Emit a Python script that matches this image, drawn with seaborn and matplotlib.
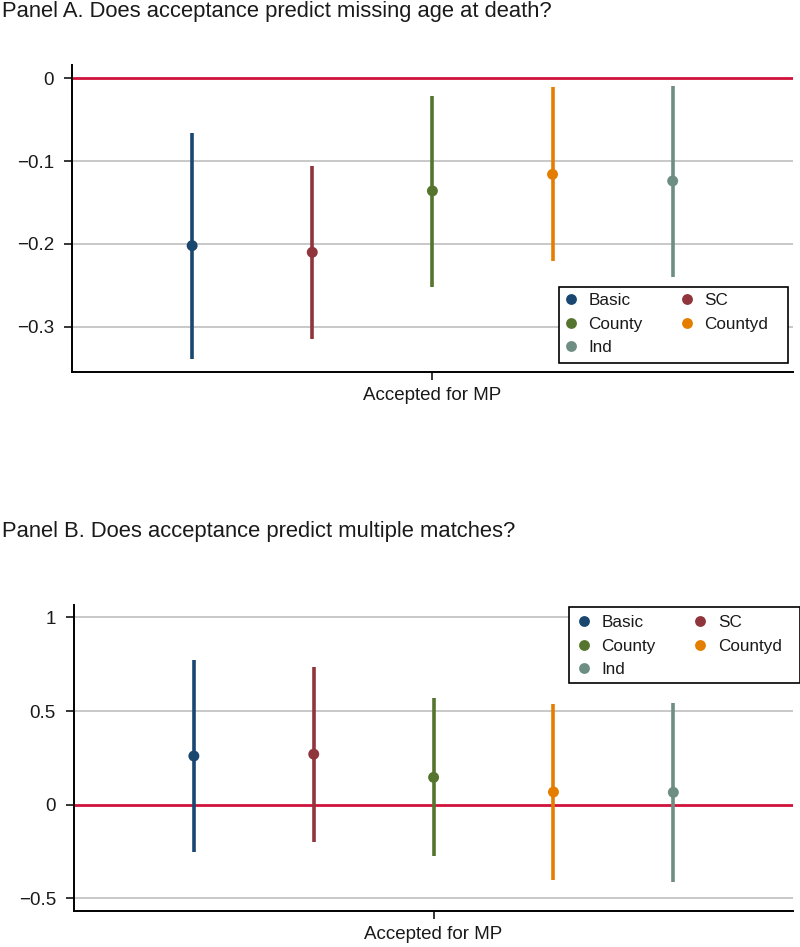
import numpy as np
import pandas as pd
import matplotlib
matplotlib.use("Agg")
import matplotlib.pyplot as plt
from matplotlib.patches import Rectangle
import seaborn as sns

# ---- data ----
models = ["Basic", "SC", "County", "Countyd", "Ind"]
colors = ["#1a476f", "#90353b", "#55752f", "#e37e00", "#6e8e84"]

a_coef = [-0.202, -0.210, -0.136, -0.116, -0.124]
a_lo = [-0.339, -0.314, -0.252, -0.221, -0.240]
a_hi = [-0.066, -0.106, -0.021, -0.011, -0.009]

b_coef = [0.260, 0.270, 0.146, 0.068, 0.066]
b_lo = [-0.251, -0.197, -0.272, -0.404, -0.411]
b_hi = [0.772, 0.737, 0.568, 0.537, 0.541]

a_yticks = [0, -0.1, -0.2, -0.3]
b_yticks = [1, 0.5, 0, -0.5]
xlabel = "Accepted for MP"
title_a = "Panel A. Does acceptance predict missing age at death?"
title_b = "Panel B. Does acceptance predict multiple matches?"

offsets = np.arange(len(models)) - (len(models) - 1) / 2

sns.set_theme(style="white")
plt.rcParams["font.family"] = ["Liberation Sans", "DejaVu Sans"]
plt.rcParams["axes.unicode_minus"] = True

fig = plt.figure(figsize=(8, 9.47), dpi=100)
axA = fig.add_axes([0.09, 0.6075, 0.901, 0.324])
axB = fig.add_axes([0.0925, 0.0383, 0.899, 0.3228])

red = "#d0123c"
grid = "#c8c8c8"
txt = "#1a1a1a"


def panel(ax, coef, lo, hi, yticks, ylim, leg_anchor, frame_rect):
    df = pd.DataFrame({"model": models, "coef": coef, "lo": lo, "hi": hi, "pos": offsets})
    for t in yticks:
        if t == 0:
            continue
        ax.axhline(t, color=grid, lw=1.4, zorder=0)
    ax.axhline(0, color=red, lw=2.0, zorder=1)
    ax.vlines(df["pos"], df["lo"], df["hi"], colors=colors, lw=2.6, zorder=2)
    sns.scatterplot(data=df, x="pos", y="coef", hue="model", hue_order=models,
                    palette=colors, s=62, edgecolor="none", ax=ax, zorder=3,
                    legend=False)
    ax.set_xlim(-3, 3)
    ax.set_ylim(*ylim)
    ax.set_yticks(yticks)
    ax.set_yticklabels([("%g" % t).replace("-", "\u2212") for t in yticks])
    ax.set_xticks([0])
    ax.set_xticklabels([xlabel])
    ax.set_xlabel("")
    ax.set_ylabel("")
    for s in ["top", "right"]:
        ax.spines[s].set_visible(False)
    for s in ["left", "bottom"]:
        ax.spines[s].set_color("black")
        ax.spines[s].set_linewidth(1.4)
    ax.tick_params(axis="y", direction="out", length=6, width=1.1, color="black",
                   labelsize=13.5, labelcolor=txt, left=True, pad=7)
    ax.tick_params(axis="x", direction="out", length=6, width=1.1, color="black",
                   labelsize=13.5, labelcolor=txt, bottom=True, pad=5)
    # legend (column-major order to read Basic, SC / County, Countyd / Ind)
    order = [0, 2, 4, 1, 3]
    handles = [plt.Line2D([], [], ls="", marker="o", ms=7.8, color=colors[i],
                          markeredgewidth=0) for i in order]
    labels = [models[i] for i in order]
    leg = ax.legend(handles, labels, ncol=2, frameon=False, fontsize=12.3,
                    handletextpad=0.62, columnspacing=2.2, labelspacing=0.5,
                    borderpad=0.0, borderaxespad=0.0, handlelength=0.8,
                    loc="center left", bbox_to_anchor=leg_anchor)
    for t in leg.get_texts():
        t.set_color(txt)
    leg.set_zorder(6)
    x0, y0, x1, y1 = frame_rect
    ax.add_patch(Rectangle((x0, y0), x1 - x0, y1 - y0, transform=ax.transAxes,
                           facecolor="white", edgecolor="black", lw=1.2,
                           zorder=5, clip_on=False))


panel(axA, a_coef, a_lo, a_hi, a_yticks, (-0.354, 0.016),
      (0.6824, 0.1547), (0.6755, 0.029, 0.993, 0.277))
panel(axB, b_coef, b_lo, b_hi, b_yticks, (-0.566, 1.066),
      (0.6997, 0.8659), (0.6885, 0.7439, 1.0088, 0.9925))

fig.text(0.002, 1 - 16.8 / 947, title_a, fontsize=15.8, va="baseline", ha="left", color=txt)
fig.text(0.002, 1 - 536.7 / 947, title_b, fontsize=15.8, va="baseline", ha="left", color=txt)

fig.savefig("out.png", dpi=100, facecolor="white")
